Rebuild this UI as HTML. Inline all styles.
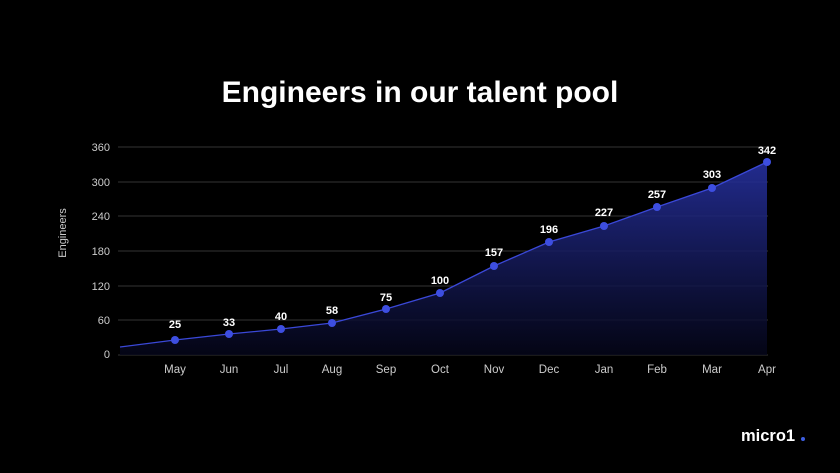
<!DOCTYPE html>
<html><head><style>
html,body{margin:0;padding:0;background:#000;}
svg{display:block;font-family:"Liberation Sans",sans-serif;}
</style></head><body>
<svg width="840" height="473" viewBox="0 0 840 473">
<defs><linearGradient id="g" x1="0" y1="0" x2="0" y2="1">
<stop offset="0" stop-color="#26309e" stop-opacity="0.9"/>
<stop offset="1" stop-color="#05061a" stop-opacity="0.8"/></linearGradient></defs>
<rect width="840" height="473" fill="#000"/>
<text x="420" y="102" text-anchor="middle" fill="#fff" font-size="30" font-weight="bold">Engineers in our talent pool</text>
<g stroke="#333" stroke-width="1">
<line x1="118" y1="147" x2="768" y2="147"/><line x1="118" y1="182" x2="768" y2="182"/>
<line x1="118" y1="216" x2="768" y2="216"/><line x1="118" y1="251" x2="768" y2="251"/>
<line x1="118" y1="286" x2="768" y2="286"/><line x1="118" y1="320" x2="768" y2="320"/>
<line x1="118" y1="355" x2="768" y2="355"/></g>
<g fill="#ccc" font-size="11" text-anchor="end">
<text x="110" y="151">360</text><text x="110" y="186">300</text><text x="110" y="220">240</text>
<text x="110" y="255">180</text><text x="110" y="290">120</text><text x="110" y="324">60</text><text x="110" y="358">0</text></g>
<text transform="translate(66,233) rotate(-90)" text-anchor="middle" fill="#ccc" font-size="11">Engineers</text>
<polygon fill="url(#g)" points="120,347 175,340 229,334 281,329 332,323 386,309 440,293 494,266 549,242 604,226 657,207 712,188 767,162 767,355 120,355"/>
<polyline fill="none" stroke="#3a48d8" stroke-width="1.3" points="120,347 175,340 229,334 281,329 332,323 386,309 440,293 494,266 549,242 604,226 657,207 712,188 767,162"/>
<g fill="#3d4ee0">
<circle cx="175" cy="340" r="4"/><circle cx="229" cy="334" r="4"/><circle cx="281" cy="329" r="4"/><circle cx="332" cy="323" r="4"/><circle cx="386" cy="309" r="4"/><circle cx="440" cy="293" r="4"/><circle cx="494" cy="266" r="4"/><circle cx="549" cy="242" r="4"/><circle cx="604" cy="226" r="4"/><circle cx="657" cy="207" r="4"/><circle cx="712" cy="188" r="4"/><circle cx="767" cy="162" r="4"/></g>
<g fill="#fff" font-size="11" font-weight="bold" text-anchor="middle">
<text x="175" y="328">25</text><text x="229" y="326">33</text><text x="281" y="320">40</text><text x="332" y="314">58</text><text x="386" y="301">75</text><text x="440" y="284">100</text><text x="494" y="256">157</text><text x="549" y="233">196</text><text x="604" y="216">227</text><text x="657" y="198">257</text><text x="712" y="178">303</text><text x="767" y="154">342</text></g>
<g fill="#ccc" font-size="11.5" text-anchor="middle">
<text x="175" y="373">May</text><text x="229" y="373">Jun</text><text x="281" y="373">Jul</text><text x="332" y="373">Aug</text><text x="386" y="373">Sep</text><text x="440" y="373">Oct</text><text x="494" y="373">Nov</text><text x="549" y="373">Dec</text><text x="604" y="373">Jan</text><text x="657" y="373">Feb</text><text x="712" y="373">Mar</text><text x="767" y="373">Apr</text></g>
<text x="741" y="441" fill="#fff" font-size="16.5" font-weight="bold">micro1</text>
<circle cx="803" cy="439" r="2" fill="#3d5ee0"/>
</svg>
</body></html>
